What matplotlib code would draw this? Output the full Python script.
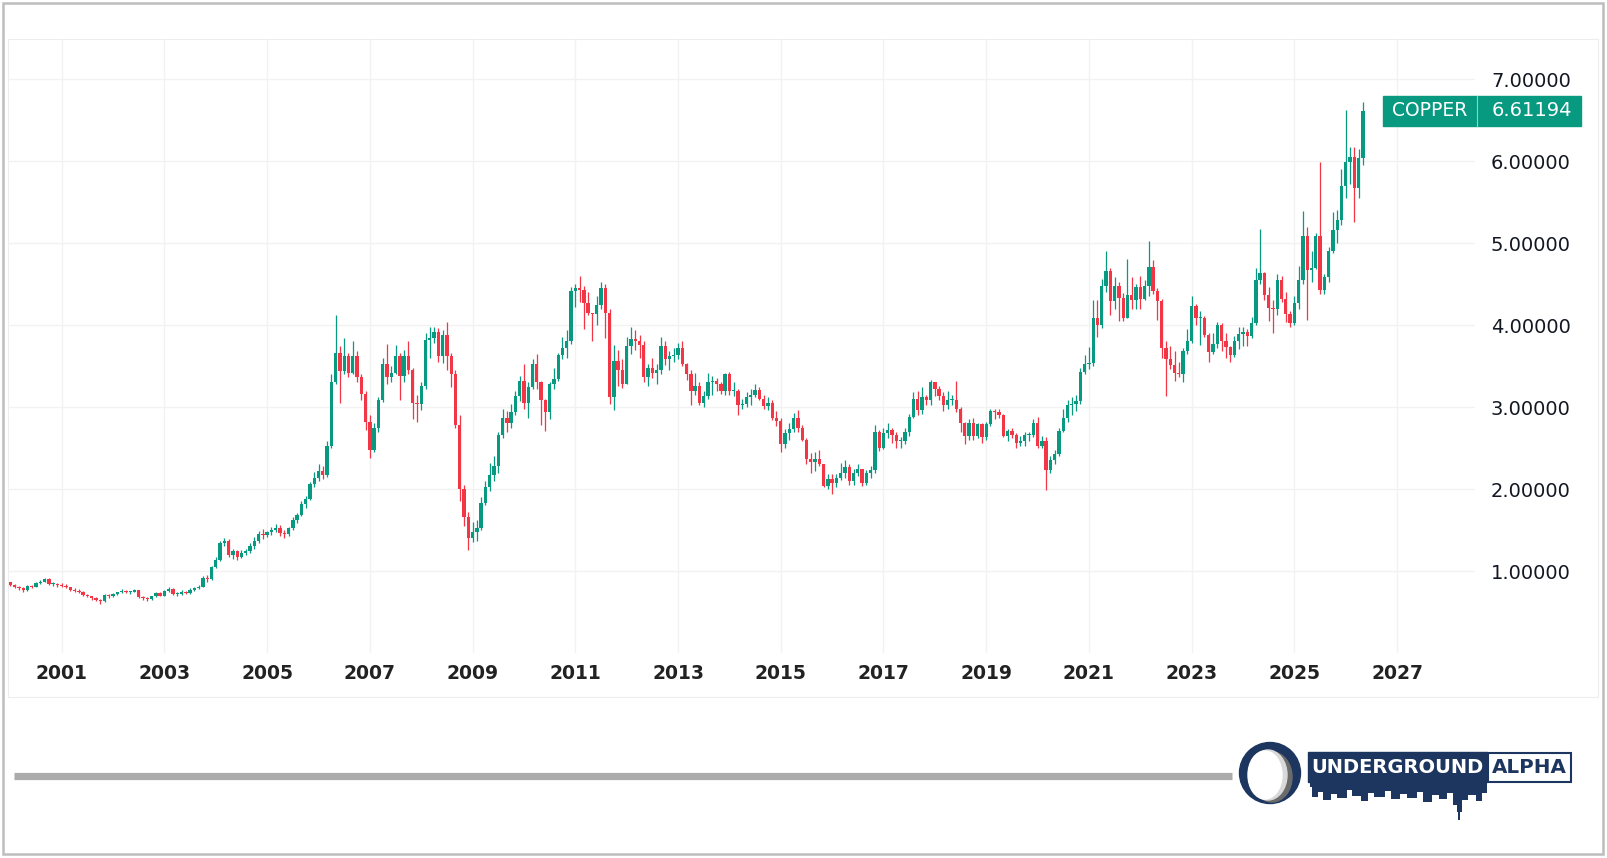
import numpy as np
import matplotlib
matplotlib.use("Agg")
import matplotlib.pyplot as plt
from matplotlib.patches import Rectangle, Circle, Ellipse
from matplotlib.transforms import blended_transform_factory

# monthly copper candles, Jan 2000 .. May 2026 (USD/lb)
first_open = 0.86
closes = [
    0.83, 0.80, 0.79, 0.77, 0.82, 0.81, 0.85, 0.87, 0.90, 0.84, 0.84, 0.83,  # 2000
    0.82, 0.80, 0.77, 0.76, 0.75, 0.71, 0.69, 0.67, 0.65, 0.63, 0.71, 0.69,  # 2001
    0.72, 0.74, 0.76, 0.74, 0.75, 0.77, 0.68, 0.67, 0.66, 0.69, 0.73, 0.70,  # 2002
    0.76, 0.78, 0.72, 0.72, 0.75, 0.73, 0.77, 0.79, 0.81, 0.92, 0.90, 1.05,  # 2003
    1.13, 1.34, 1.36, 1.20, 1.25, 1.17, 1.22, 1.24, 1.31, 1.36, 1.45, 1.44,  # 2004
    1.47, 1.50, 1.52, 1.46, 1.45, 1.52, 1.62, 1.68, 1.82, 1.88, 2.06, 2.14,  # 2005
    2.22, 2.17, 2.52, 3.30, 3.66, 3.44, 3.62, 3.42, 3.62, 3.36, 3.16, 2.82,  # 2006
    2.48, 2.74, 3.08, 3.52, 3.36, 3.42, 3.62, 3.38, 3.62, 3.45, 3.05, 3.04,  # 2007
    3.26, 3.82, 3.84, 3.92, 3.62, 3.88, 3.62, 3.40, 2.78, 2.00, 1.66, 1.40,  # 2008
    1.47, 1.52, 1.83, 2.02, 2.17, 2.28, 2.66, 2.86, 2.80, 2.94, 3.13, 3.32,  # 2009
    3.05, 3.24, 3.52, 3.30, 3.08, 2.94, 3.28, 3.34, 3.63, 3.72, 3.80, 4.42,  # 2010
    4.45, 4.43, 4.27, 4.15, 4.13, 4.25, 4.45, 4.15, 3.12, 3.56, 3.45, 3.28,  # 2011
    3.74, 3.83, 3.80, 3.76, 3.36, 3.47, 3.41, 3.45, 3.74, 3.58, 3.62, 3.64,  # 2012
    3.72, 3.52, 3.40, 3.20, 3.26, 3.05, 3.13, 3.31, 3.32, 3.28, 3.20, 3.40,  # 2013
    3.20, 3.20, 3.02, 3.04, 3.12, 3.15, 3.21, 3.10, 3.01, 3.05, 2.86, 2.83,  # 2014
    2.55, 2.68, 2.73, 2.86, 2.74, 2.60, 2.36, 2.33, 2.37, 2.30, 2.04, 2.12,  # 2015
    2.07, 2.13, 2.20, 2.27, 2.10, 2.20, 2.24, 2.07, 2.19, 2.23, 2.70, 2.50,  # 2016
    2.68, 2.72, 2.66, 2.58, 2.58, 2.70, 2.88, 3.10, 2.96, 3.12, 3.08, 3.30,  # 2017
    3.22, 3.13, 3.03, 3.08, 3.08, 2.97, 2.80, 2.65, 2.80, 2.65, 2.79, 2.63,  # 2018
    2.79, 2.95, 2.94, 2.90, 2.65, 2.71, 2.66, 2.56, 2.59, 2.66, 2.66, 2.80,  # 2019
    2.52, 2.58, 2.23, 2.35, 2.43, 2.71, 2.86, 3.03, 3.04, 3.07, 3.43, 3.52,  # 2020
    3.54, 4.09, 4.00, 4.47, 4.66, 4.29, 4.47, 4.33, 4.09, 4.37, 4.30, 4.46,  # 2021
    4.32, 4.47, 4.71, 4.41, 4.29, 3.72, 3.58, 3.51, 3.41, 3.40, 3.68, 3.81,  # 2022
    4.23, 4.08, 4.09, 3.88, 3.67, 3.77, 4.00, 3.81, 3.73, 3.64, 3.81, 3.89,  # 2023
    3.91, 3.86, 4.02, 4.55, 4.63, 4.37, 4.21, 4.20, 4.55, 4.32, 4.14, 4.02,  # 2024
    4.27, 4.55, 5.08, 4.67, 4.70, 5.08, 4.43, 4.58, 4.90, 5.16, 5.28, 5.70,  # 2025
    5.99, 6.05, 5.67, 6.04, 6.61194,                                         # 2026
]
highs = [
    0.87, 0.84, 0.82, 0.80, 0.83, 0.83, 0.86, 0.89, 0.92, 0.91, 0.86, 0.85,
    0.85, 0.84, 0.81, 0.79, 0.78, 0.76, 0.72, 0.70, 0.68, 0.66, 0.72, 0.72,
    0.73, 0.75, 0.78, 0.77, 0.76, 0.78, 0.77, 0.69, 0.68, 0.70, 0.75, 0.74,
    0.77, 0.80, 0.79, 0.74, 0.77, 0.76, 0.79, 0.81, 0.83, 0.94, 0.95, 1.06,
    1.17, 1.37, 1.40, 1.39, 1.27, 1.26, 1.26, 1.27, 1.34, 1.42, 1.49, 1.51,
    1.49, 1.54, 1.57, 1.56, 1.50, 1.54, 1.66, 1.71, 1.85, 1.92, 2.08, 2.21,
    2.30, 2.28, 2.58, 3.40, 4.12, 3.74, 3.84, 3.66, 3.80, 3.68, 3.40, 3.20,
    2.90, 2.80, 3.12, 3.60, 3.77, 3.50, 3.76, 3.66, 3.70, 3.80, 3.48, 3.15,
    3.30, 3.90, 3.98, 3.98, 3.96, 3.94, 4.04, 3.66, 3.45, 2.90, 2.05, 1.72,
    1.60, 1.62, 1.90, 2.10, 2.32, 2.40, 2.70, 2.98, 2.95, 3.04, 3.20, 3.38,
    3.52, 3.30, 3.58, 3.65, 3.32, 3.10, 3.30, 3.48, 3.66, 3.85, 3.94, 4.46,
    4.50, 4.60, 4.48, 4.40, 4.15, 4.35, 4.52, 4.50, 4.20, 3.76, 3.70, 3.58,
    3.85, 3.97, 3.94, 3.88, 3.80, 3.52, 3.60, 3.52, 3.85, 3.80, 3.68, 3.72,
    3.78, 3.80, 3.54, 3.45, 3.42, 3.30, 3.20, 3.42, 3.38, 3.35, 3.30, 3.42,
    3.43, 3.30, 3.22, 3.10, 3.18, 3.22, 3.28, 3.25, 3.15, 3.12, 3.08, 2.95,
    2.86, 2.73, 2.80, 2.93, 2.96, 2.78, 2.62, 2.44, 2.45, 2.48, 2.31, 2.18,
    2.18, 2.18, 2.32, 2.35, 2.30, 2.25, 2.30, 2.25, 2.23, 2.28, 2.78, 2.72,
    2.75, 2.80, 2.75, 2.70, 2.63, 2.74, 2.92, 3.18, 3.19, 3.25, 3.15, 3.33,
    3.30, 3.26, 3.18, 3.20, 3.15, 3.32, 3.00, 2.82, 2.85, 2.86, 2.81, 2.80,
    2.82, 2.98, 2.98, 2.98, 2.92, 2.73, 2.75, 2.68, 2.65, 2.70, 2.70, 2.85,
    2.88, 2.65, 2.63, 2.40, 2.47, 2.75, 2.98, 3.08, 3.12, 3.15, 3.47, 3.63,
    3.73, 4.31, 4.30, 4.56, 4.90, 4.70, 4.58, 4.52, 4.39, 4.80, 4.58, 4.50,
    4.60, 4.55, 5.02, 4.79, 4.45, 4.32, 3.80, 3.75, 3.68, 3.55, 3.72, 3.95,
    4.35, 4.26, 4.17, 4.11, 3.90, 3.90, 4.04, 4.02, 3.90, 3.75, 3.86, 3.97,
    3.98, 3.95, 4.10, 4.69, 5.17, 4.65, 4.46, 4.30, 4.62, 4.60, 4.40, 4.17,
    4.35, 4.72, 5.39, 5.20, 4.90, 5.12, 5.99, 4.62, 4.95, 5.38, 5.40, 5.90,
    6.62, 6.17, 6.17, 6.15, 6.72,
]
lows = [
    0.82, 0.79, 0.77, 0.75, 0.76, 0.79, 0.80, 0.84, 0.86, 0.83, 0.82, 0.81,
    0.80, 0.79, 0.76, 0.74, 0.73, 0.70, 0.68, 0.65, 0.63, 0.60, 0.62, 0.67,
    0.68, 0.71, 0.73, 0.73, 0.72, 0.74, 0.67, 0.65, 0.64, 0.65, 0.68, 0.69,
    0.69, 0.75, 0.71, 0.70, 0.71, 0.72, 0.72, 0.76, 0.78, 0.80, 0.87, 0.89,
    1.04, 1.12, 1.30, 1.17, 1.15, 1.13, 1.16, 1.19, 1.22, 1.27, 1.34, 1.39,
    1.41, 1.44, 1.47, 1.43, 1.40, 1.43, 1.50, 1.58, 1.67, 1.77, 1.86, 2.02,
    2.10, 2.12, 2.15, 2.50, 3.28, 3.05, 3.40, 3.36, 3.40, 3.30, 3.08, 2.72,
    2.38, 2.45, 2.70, 3.06, 3.28, 3.30, 3.40, 3.09, 3.30, 3.40, 2.85, 2.82,
    2.96, 3.22, 3.60, 3.78, 3.55, 3.54, 3.45, 3.25, 2.75, 1.85, 1.55, 1.26,
    1.35, 1.37, 1.50, 1.80, 1.98, 2.10, 2.20, 2.62, 2.70, 2.75, 2.90, 3.07,
    2.98, 2.87, 3.22, 3.22, 2.78, 2.71, 2.85, 3.22, 3.32, 3.58, 3.60, 3.77,
    4.22, 4.28, 3.95, 4.12, 3.81, 4.00, 4.20, 3.84, 3.04, 2.96, 3.26, 3.23,
    3.28, 3.65, 3.70, 3.60, 3.30, 3.26, 3.35, 3.28, 3.40, 3.51, 3.45, 3.55,
    3.58, 3.50, 3.33, 3.02, 3.15, 3.02, 3.00, 3.10, 3.15, 3.20, 3.16, 3.15,
    3.15, 3.14, 2.90, 2.97, 3.00, 3.02, 3.12, 3.08, 2.97, 2.96, 2.84, 2.77,
    2.45, 2.50, 2.60, 2.70, 2.70, 2.58, 2.30, 2.20, 2.22, 2.28, 2.02, 2.00,
    1.94, 2.03, 2.11, 2.14, 2.05, 2.05, 2.16, 2.04, 2.05, 2.14, 2.20, 2.46,
    2.49, 2.62, 2.56, 2.50, 2.50, 2.55, 2.65, 2.86, 2.90, 2.92, 3.02, 3.02,
    3.13, 3.08, 2.95, 2.98, 3.02, 2.94, 2.70, 2.55, 2.60, 2.60, 2.62, 2.56,
    2.60, 2.77, 2.85, 2.86, 2.63, 2.58, 2.62, 2.50, 2.52, 2.53, 2.58, 2.64,
    2.50, 2.50, 1.99, 2.20, 2.31, 2.40, 2.70, 2.82, 2.90, 2.95, 3.04, 3.40,
    3.46, 3.50, 3.85, 3.96, 4.40, 4.12, 4.20, 4.05, 4.05, 4.08, 4.20, 4.20,
    4.20, 4.30, 4.35, 4.38, 4.06, 3.60, 3.13, 3.46, 3.32, 3.36, 3.30, 3.65,
    3.78, 4.00, 3.76, 3.85, 3.55, 3.65, 3.72, 3.68, 3.60, 3.55, 3.61, 3.71,
    3.75, 3.74, 3.84, 4.00, 4.50, 4.30, 4.05, 3.90, 4.12, 4.28, 4.04, 3.98,
    4.00, 4.20, 4.50, 4.06, 4.52, 4.68, 4.38, 4.38, 4.52, 4.88, 5.00, 5.22,
    5.55, 5.72, 5.26, 5.55, 5.95,
]
year_labels = ["2001", "2003", "2005", "2007", "2009", "2011", "2013",
               "2015", "2017", "2019", "2021", "2023", "2025", "2027"]
price_ticks = [1, 2, 3, 4, 5, 6, 7]
symbol = "COPPER"

UP = "#089981"
DOWN = "#F23645"
NAVY = "#1d3660"

closes = np.array(closes)
opens = np.concatenate([[first_open], closes[:-1]])
highs = np.maximum(np.array(highs), np.maximum(opens, closes))
lows = np.minimum(np.array(lows), np.minimum(opens, closes))
idx = np.arange(len(closes))
colors = np.where(closes >= opens, UP, DOWN)

W, H = 1607, 858
fig = plt.figure(figsize=(W / 100, H / 100), dpi=100)
fig.patch.set_facecolor("white")

# background layer in pixel coordinates (frame, bar, logo)
bg = fig.add_axes([0, 0, 1, 1], zorder=0)
bg.set_xlim(0, W)
bg.set_ylim(H, 0)
bg.axis("off")
bg.add_patch(Rectangle((3, 3), 1600, 851, fill=False, ec="#bdbdbd", lw=1.8))
bg.add_patch(Rectangle((8, 39), 1590, 658, fill=False, ec="#ededed", lw=0.8))
bg.plot([14, 1232], [776, 776], color="#ababab", lw=5.2, solid_capstyle="butt")

# logo
bg.add_patch(Circle((1270, 773), 30.5, color=NAVY))
bg.add_patch(Ellipse((1272, 777), 40, 50, color="#6b6b6b"))
bg.add_patch(Ellipse((1268, 775), 38, 50, color="#d9d9d9"))
bg.add_patch(Ellipse((1265, 775), 34, 48, color="white"))
bg.add_patch(Rectangle((1308, 752), 179, 30, color=NAVY))
bg.add_patch(Rectangle((1488, 752.5), 83, 29, fill=False, ec=NAVY, lw=1.5))
bg.add_patch(Rectangle((1310, 781), 177, 6, color=NAVY, lw=0))
skyline = [(1312, 6, 797), (1318, 5, 792), (1323, 8, 800), (1331, 6, 794),
           (1337, 10, 798), (1347, 5, 790), (1352, 9, 796), (1361, 7, 801),
           (1368, 6, 793), (1374, 11, 797), (1385, 6, 791), (1391, 9, 799),
           (1400, 7, 794), (1407, 10, 798), (1417, 6, 792), (1423, 9, 802),
           (1432, 7, 795), (1439, 8, 799), (1447, 6, 793), (1453, 5, 805),
           (1456.5, 5, 812), (1458.3, 1.6, 820), (1462, 6, 800), (1468, 8, 795),
           (1476, 6, 801), (1482, 5, 793)]
for x0, w, yb in skyline:
    bg.add_patch(Rectangle((x0, 781), w, yb - 781, color=NAVY, lw=0))

renderer = fig.canvas.get_renderer()


def fit_text(s, x0, x1, yc, color, size):
    t = bg.text((x0 + x1) / 2, yc, s, ha="center", va="center", color=color,
                fontsize=size, fontweight="bold", family="DejaVu Sans")
    w = t.get_window_extent(renderer).width
    if w > x1 - x0:
        t.set_fontsize(size * (x1 - x0) / w)
    return t


fit_text("UNDERGROUND", 1311, 1484, 767.5, "white", 24)
fit_text("ALPHA", 1492, 1567, 767.5, NAVY, 24)

# price pane
ax = fig.add_axes([8 / W, (H - 653) / H, (1475 - 8) / W, (653 - 39) / H], zorder=1)
ax.set_facecolor("none")
ax.set_xlim(-0.55, 342.2)
ax.set_ylim(0, 7.488)

ax.vlines(idx, lows, highs, colors=colors, lw=0.9, zorder=2)
body = np.maximum(np.abs(closes - opens), 0.012)
ax.bar(idx, body, bottom=np.minimum(opens, closes), width=0.78,
       color=colors, lw=0, zorder=3)

year_pos = [(int(y) - 2000) * 12 for y in year_labels]
ax.set_xticks(year_pos)
ax.set_xticklabels(year_labels, fontsize=13.5, fontweight="bold", color="#222222")
ax.set_yticks(price_ticks)
ax.set_yticklabels([f"{v:.5f}" for v in price_ticks], fontsize=14, color="#131722")
ax.yaxis.tick_right()
ax.tick_params(axis="x", length=0, pad=8)
ax.tick_params(axis="y", length=0, pad=11.5)
ax.grid(True, color="#f2f2f2", lw=1)
ax.set_axisbelow(True)
for s in ax.spines.values():
    s.set_visible(False)

# last price tag
last = closes[-1]
tr = blended_transform_factory(ax.transAxes, ax.transData)
ax.add_patch(Rectangle((0.9373, last - 0.183), 0.135, 0.366, transform=tr,
                       color=UP, clip_on=False, zorder=5))
ax.plot([1.0014, 1.0014], [last - 0.183, last + 0.183], transform=tr,
        color="#8fd3c6", lw=0.8, clip_on=False, zorder=6)
ax.text(0.9693, last, symbol, transform=tr, ha="center", va="center",
        color="white", fontsize=13.5, zorder=7)
ax.text(1.0389, last, f"{last:.5f}", transform=tr, ha="center", va="center",
        color="white", fontsize=14, zorder=7)

fig.savefig("out.png", dpi=100, facecolor="white")
